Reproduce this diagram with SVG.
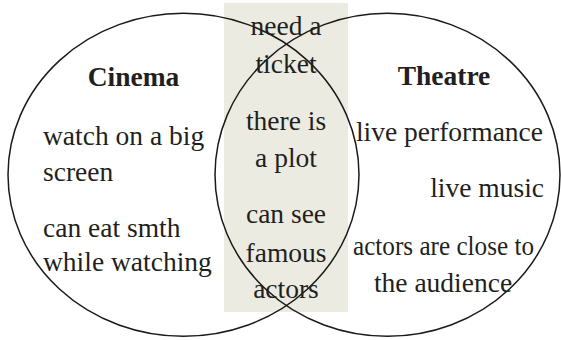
<svg xmlns="http://www.w3.org/2000/svg" width="561" height="340" viewBox="0 0 561 340">
<style>
  .t { font-family: "Liberation Serif", "Times New Roman", serif; font-size: 27.5px; fill: #231f20; }
  .b { font-weight: bold; }
  .m { text-anchor: middle; }
  .e { text-anchor: end; }
  .ring { fill: none; stroke: #1a1a1a; stroke-width: 1.5; }
</style>
<rect x="0" y="0" width="561" height="340" fill="#ffffff"/>
<g id="overlap-band">
  <rect x="224" y="3" width="124" height="309" fill="#ecebe1"/>
</g>
<g id="cinema">
  <ellipse class="ring" cx="183.5" cy="174.8" rx="175.5" ry="161.5"/>
  <text class="t b m" x="133.5" y="86">Cinema</text>
  <text class="t" x="43" y="145">watch on a big</text>
  <text class="t" x="43" y="181">screen</text>
  <text class="t" x="43" y="237">can eat smth</text>
  <text class="t" x="43" y="271">while watching</text>
</g>
<g id="theatre">
  <ellipse class="ring" cx="387.5" cy="174.8" rx="172.5" ry="161.5"/>
  <text class="t b m" x="444" y="85">Theatre</text>
  <text class="t m" x="449.5" y="141">live performance</text>
  <text class="t e" x="544" y="197">live music</text>
  <text class="t m" x="443.5" y="255" textLength="181" lengthAdjust="spacingAndGlyphs">actors are close to</text>
  <text class="t m" x="443" y="292">the audience</text>
</g>
<g id="both">
  <text class="t m" x="286" y="35">need a</text>
  <text class="t m" x="286" y="73">ticket</text>
  <text class="t m" x="286" y="130">there is</text>
  <text class="t m" x="286" y="167">a plot</text>
  <text class="t m" x="286" y="223">can see</text>
  <text class="t m" x="286" y="262">famous</text>
  <text class="t m" x="286" y="298">actors</text>
</g>
</svg>
